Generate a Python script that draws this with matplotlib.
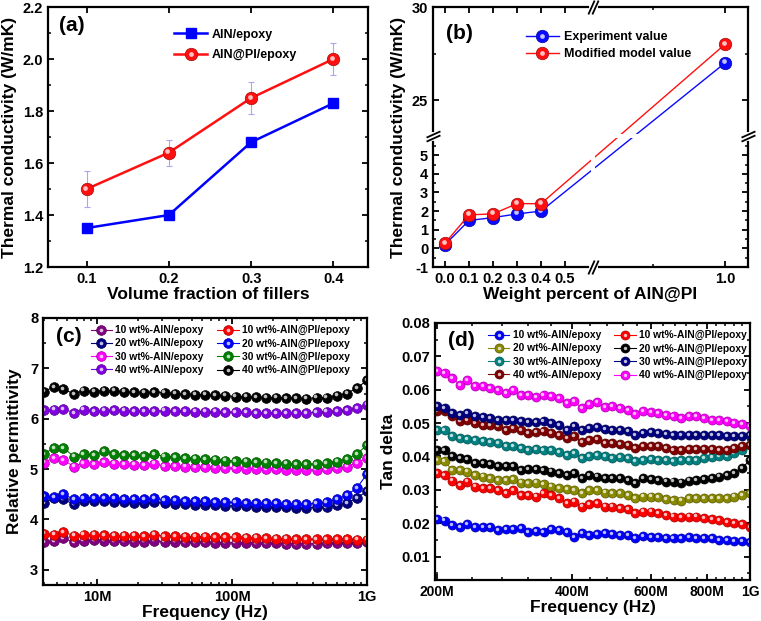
import matplotlib
matplotlib.use("Agg")
import matplotlib.pyplot as plt
import matplotlib.ticker as mticker
import matplotlib.transforms as mtrans
import numpy as np
from matplotlib.colors import to_rgb

# ---- (a) thermal conductivity vs volume fraction
vol_frac = [0.1, 0.2, 0.3, 0.4]
tc_aln = [1.35, 1.40, 1.68, 1.83]
tc_alnpi = [1.50, 1.64, 1.85, 2.00]
tc_alnpi_err = [0.07, 0.05, 0.06, 0.06]

# ---- (b) experiment vs model
wt_frac = [0.0, 0.1, 0.2, 0.3, 0.4, 1.0]
exp_val = [0.2, 1.5, 1.65, 1.85, 2.0, 27.0]
model_val = [0.28, 1.8, 1.85, 2.4, 2.4, 28.0]

# ---- (c) relative permittivity
freq_c_mhz = [4.0, 4.75, 5.6, 6.7, 7.9, 9.4, 11.2, 13.3, 15.8, 18.8,
              22.3, 26.5, 31.5, 37.5, 44.5, 53, 63, 75, 89, 106,
              126, 150, 178, 211, 251, 299, 355, 422, 501, 596,
              708, 841, 1000]
eps_aln10 = [3.55, 3.57, 3.63, 3.55, 3.58, 3.59, 3.58, 3.57, 3.57, 3.56,
             3.56, 3.58, 3.56, 3.56, 3.55, 3.55, 3.55, 3.54, 3.54, 3.54,
             3.54, 3.53, 3.53, 3.53, 3.52, 3.52, 3.52, 3.52, 3.53, 3.53,
             3.53, 3.54, 3.55]
eps_aln20 = [4.33, 4.42, 4.40, 4.30, 4.36, 4.36, 4.36, 4.35, 4.34, 4.33,
             4.33, 4.34, 4.32, 4.30, 4.30, 4.29, 4.28, 4.28, 4.27, 4.27,
             4.26, 4.25, 4.25, 4.24, 4.24, 4.23, 4.23, 4.24, 4.25, 4.28,
             4.33, 4.42, 4.57]
eps_aln30 = [5.13, 5.22, 5.18, 5.05, 5.12, 5.10, 5.14, 5.11, 5.10, 5.09,
             5.08, 5.11, 5.06, 5.06, 5.05, 5.04, 5.04, 5.03, 5.02, 5.02,
             5.01, 5.01, 5.00, 5.00, 4.99, 4.99, 4.99, 4.99, 5.00, 5.02,
             5.05, 5.12, 5.22]
eps_aln40 = [6.17, 6.18, 6.19, 6.12, 6.18, 6.15, 6.16, 6.17, 6.16, 6.15,
             6.15, 6.15, 6.16, 6.15, 6.15, 6.14, 6.14, 6.14, 6.13, 6.13,
             6.13, 6.12, 6.12, 6.12, 6.12, 6.12, 6.12, 6.13, 6.14, 6.15,
             6.17, 6.21, 6.28]
eps_pi10 = [3.72, 3.70, 3.75, 3.68, 3.70, 3.70, 3.69, 3.68, 3.68, 3.68,
            3.67, 3.70, 3.67, 3.67, 3.66, 3.66, 3.66, 3.65, 3.65, 3.65,
            3.64, 3.64, 3.63, 3.62, 3.62, 3.61, 3.61, 3.61, 3.61, 3.61,
            3.61, 3.60, 3.60]
eps_pi20 = [4.46, 4.45, 4.50, 4.40, 4.43, 4.43, 4.43, 4.42, 4.41, 4.40,
            4.40, 4.42, 4.39, 4.38, 4.37, 4.36, 4.36, 4.35, 4.34, 4.34,
            4.33, 4.33, 4.32, 4.32, 4.31, 4.31, 4.31, 4.32, 4.34, 4.40,
            4.48, 4.63, 4.90]
eps_pi30 = [5.30, 5.42, 5.42, 5.25, 5.30, 5.28, 5.35, 5.30, 5.28, 5.27,
            5.26, 5.30, 5.25, 5.24, 5.22, 5.21, 5.20, 5.19, 5.17, 5.16,
            5.15, 5.14, 5.13, 5.12, 5.11, 5.10, 5.10, 5.10, 5.12, 5.15,
            5.20, 5.30, 5.48]
eps_pi40 = [6.54, 6.63, 6.59, 6.49, 6.56, 6.54, 6.56, 6.56, 6.54, 6.53,
            6.52, 6.53, 6.52, 6.50, 6.49, 6.48, 6.48, 6.47, 6.46, 6.44,
            6.44, 6.43, 6.42, 6.42, 6.41, 6.41, 6.40, 6.42, 6.42, 6.46,
            6.50, 6.61, 6.76]

# ---- (d) tan delta
freq_d_mhz = [200, 208, 216, 225, 234, 243, 253, 263, 274, 285,
              296, 308, 320, 333, 346, 360, 375, 390, 405, 421,
              438, 456, 474, 493, 513, 533, 555, 577, 600, 624,
              649, 675, 702, 730, 759, 789, 821, 854, 888, 923,
              960, 1000]
tan_aln10 = [0.0213, 0.0208, 0.0195, 0.0188, 0.0198, 0.019, 0.0188, 0.0188, 0.018, 0.0182,
             0.0183, 0.0185, 0.0175, 0.0178, 0.0175, 0.0182, 0.018, 0.0175, 0.016, 0.0172,
             0.0165, 0.0168, 0.017, 0.0168, 0.0165, 0.0165, 0.0155, 0.0162, 0.016, 0.016,
             0.0155, 0.0155, 0.0155, 0.0158, 0.0155, 0.0155, 0.0155, 0.015, 0.015, 0.0148,
             0.0148, 0.0145]
tan_aln20 = [0.0388, 0.0385, 0.036, 0.0358, 0.0355, 0.0345, 0.034, 0.0335, 0.033, 0.033,
             0.0332, 0.0322, 0.032, 0.0322, 0.0318, 0.031, 0.0305, 0.0302, 0.030, 0.029,
             0.030, 0.030, 0.0292, 0.029, 0.029, 0.0285, 0.0275, 0.028, 0.028, 0.0278,
             0.0272, 0.027, 0.0268, 0.0275, 0.0275, 0.0275, 0.0275, 0.0275, 0.0275, 0.028,
             0.0285, 0.029]
tan_aln30 = [0.0478, 0.048, 0.046, 0.0455, 0.0452, 0.045, 0.0445, 0.0442, 0.044, 0.043,
             0.0432, 0.0425, 0.0418, 0.0422, 0.042, 0.0418, 0.0412, 0.0405, 0.041, 0.0395,
             0.040, 0.0405, 0.040, 0.0395, 0.0398, 0.0395, 0.0385, 0.039, 0.0392, 0.039,
             0.0388, 0.0385, 0.039, 0.039, 0.039, 0.0395, 0.0398, 0.040, 0.0402, 0.041,
             0.0418, 0.0435]
tan_aln40 = [0.0535, 0.0535, 0.052, 0.0505, 0.051, 0.050, 0.0495, 0.0495, 0.049, 0.048,
             0.0485, 0.048, 0.047, 0.0472, 0.0475, 0.047, 0.0465, 0.0455, 0.046, 0.0442,
             0.045, 0.0452, 0.044, 0.044, 0.0438, 0.0435, 0.0425, 0.043, 0.043, 0.043,
             0.0425, 0.042, 0.0418, 0.0422, 0.0422, 0.0422, 0.0422, 0.042, 0.042, 0.0425,
             0.043, 0.0435]
tan_pi10 = [0.035, 0.0345, 0.0328, 0.0315, 0.0325, 0.031, 0.0305, 0.0305, 0.030, 0.029,
            0.030, 0.0285, 0.0285, 0.028, 0.029, 0.0285, 0.0275, 0.026, 0.0265, 0.025,
            0.0258, 0.026, 0.025, 0.025, 0.0245, 0.0242, 0.023, 0.0235, 0.0235, 0.023,
            0.0225, 0.022, 0.0218, 0.022, 0.022, 0.0215, 0.0212, 0.021, 0.0205, 0.020,
            0.0198, 0.019]
tan_pi20 = [0.042, 0.0418, 0.040, 0.0395, 0.0392, 0.038, 0.038, 0.0378, 0.037, 0.037,
            0.0372, 0.036, 0.0362, 0.0362, 0.036, 0.0355, 0.035, 0.0345, 0.035, 0.0335,
            0.0345, 0.034, 0.0335, 0.0335, 0.0335, 0.033, 0.032, 0.0335, 0.0332, 0.033,
            0.0325, 0.0325, 0.0322, 0.0328, 0.033, 0.0332, 0.0335, 0.034, 0.0345, 0.035,
            0.0365, 0.039]
tan_pi30 = [0.055, 0.0545, 0.053, 0.0525, 0.053, 0.052, 0.0518, 0.0515, 0.051, 0.0508,
            0.051, 0.0505, 0.0502, 0.0502, 0.0505, 0.050, 0.0495, 0.048, 0.049, 0.0478,
            0.0485, 0.0488, 0.0482, 0.048, 0.048, 0.0475, 0.0465, 0.047, 0.0472, 0.047,
            0.0468, 0.0465, 0.0465, 0.0465, 0.0465, 0.0465, 0.0465, 0.0465, 0.046, 0.046,
            0.0462, 0.0465]
tan_pi40 = [0.0655, 0.065, 0.0635, 0.0615, 0.0628, 0.0612, 0.061, 0.0605, 0.060, 0.059,
            0.060, 0.0585, 0.0583, 0.0578, 0.0585, 0.058, 0.0575, 0.056, 0.0565, 0.0545,
            0.0558, 0.0562, 0.0548, 0.055, 0.0545, 0.054, 0.0528, 0.0535, 0.0533, 0.053,
            0.0525, 0.052, 0.0515, 0.0522, 0.052, 0.0515, 0.051, 0.051, 0.0505, 0.050,
            0.0498, 0.049]

wt_labels = ["10 wt%", "20 wt%", "30 wt%", "40 wt%"]

plt.rcParams["font.family"] = ["Liberation Sans", "DejaVu Sans"]
plt.rcParams["font.weight"] = "bold"
plt.rcParams["axes.labelweight"] = "bold"
plt.rcParams["axes.linewidth"] = 1.6
plt.rcParams["xtick.direction"] = "in"
plt.rcParams["ytick.direction"] = "in"
plt.rcParams["xtick.top"] = True
plt.rcParams["ytick.right"] = True
plt.rcParams["xtick.major.size"] = 4.5
plt.rcParams["ytick.major.size"] = 4.5
plt.rcParams["xtick.minor.size"] = 2.5
plt.rcParams["ytick.minor.size"] = 2.5
plt.rcParams["xtick.major.width"] = 1.3
plt.rcParams["ytick.major.width"] = 1.3
plt.rcParams["xtick.minor.width"] = 1.1
plt.rcParams["ytick.minor.width"] = 1.1
plt.rcParams["xtick.labelsize"] = 10.5
plt.rcParams["ytick.labelsize"] = 10.5
plt.rcParams["axes.labelsize"] = 12.5

fig = plt.figure(figsize=(7.61, 6.21), dpi=100)


def shade(c, f):
    r = np.array(to_rgb(c))
    if f >= 0:
        return tuple(r + (1 - r) * f)
    return tuple(r * (1 + f))


def sphere(ax, x, y, color, ms, lw=1.0, label=None):
    main, = ax.plot(x, y, "-", color=color, lw=lw, marker="o", ms=ms,
                    mfc=color, mec=shade(color, -0.35), mew=0.5, label=label)
    off = mtrans.offset_copy(ax.transData, fig=fig, x=-ms * 0.12, y=ms * 0.12, units="points")
    hi, = ax.plot(x, y, ls="none", marker="o", ms=ms * 0.38,
                  mfc=shade(color, 0.75), mec="none", transform=off)
    return (main, hi)


# ================= (a)
ax = fig.add_axes([0.063, 0.570, 0.4205, 0.4187])
ha1, = ax.plot(vol_frac, tc_aln, "-s", color="#0000ff", lw=1.8, ms=7.5, label="AlN/epoxy")
ax.errorbar(vol_frac, tc_alnpi, yerr=tc_alnpi_err, fmt="none", ecolor="#a8a8f0",
            elinewidth=0.8, capsize=2.5, capthick=0.8)
ha2 = sphere(ax, vol_frac, tc_alnpi, "#ff1010", 9, lw=1.8)
ax.set_xlim(0.053, 0.442)
ax.set_ylim(1.2, 2.2)
ax.xaxis.set_major_locator(mticker.FixedLocator(vol_frac))
ax.yaxis.set_major_locator(mticker.MultipleLocator(0.2))
ax.yaxis.set_minor_locator(mticker.MultipleLocator(0.1))
ax.xaxis.set_major_formatter(mticker.FormatStrFormatter("%.1f"))
ax.yaxis.set_major_formatter(mticker.FormatStrFormatter("%.1f"))
ax.set_xlabel("Volume fraction of fillers", labelpad=1)
ax.set_ylabel("Thermal conductivity (W/mK)", labelpad=4)
ax.text(0.035, 0.93, "(a)", transform=ax.transAxes, fontsize=15, va="center")
ax.legend([ha1, ha2], ["AlN/epoxy", "AlN@PI/epoxy"], loc="upper left",
          bbox_to_anchor=(0.36, 0.96), frameon=False, fontsize=9,
          handlelength=2.6, handletextpad=0.4, labelspacing=0.7)

# ================= (b) broken axes via piecewise scale
XB0, XB1, XG, XK = 0.61, 0.64, 0.0167, 1.5
YB0, YB1, YG = 5.9, 23.2, 0.25


def fx(x):
    x = np.asarray(x, float)
    return np.where(x <= XB0, x,
                    np.where(x >= XB1, XB0 + XG + (x - XB1) * XK,
                             XB0 + (x - XB0) * XG / (XB1 - XB0)))


def fx_inv(u):
    u = np.asarray(u, float)
    return np.where(u <= XB0, u,
                    np.where(u >= XB0 + XG, XB1 + (u - XB0 - XG) / XK,
                             XB0 + (u - XB0) * (XB1 - XB0) / XG))


def fy(y):
    y = np.asarray(y, float)
    return np.where(y <= YB0, y,
                    np.where(y >= YB1, y - YB1 + YB0 + YG,
                             YB0 + (y - YB0) * YG / (YB1 - YB0)))


def fy_inv(u):
    u = np.asarray(u, float)
    return np.where(u <= YB0, u,
                    np.where(u >= YB0 + YG, u - YB0 - YG + YB1,
                             YB0 + (u - YB0) * (YB1 - YB0) / YG))


bx = fig.add_axes([0.569, 0.570, 0.414, 0.4187])
bx.set_xscale("function", functions=(fx, fx_inv))
bx.set_yscale("function", functions=(fy, fy_inv))
hb1 = sphere(bx, wt_frac, exp_val, "#0a0aff", 9, lw=1.0)
hb2 = sphere(bx, wt_frac, model_val, "#ff1010", 9, lw=1.0)
bx.set_xlim(-0.05, 1.064)
bx.set_ylim(-1, 30)
bx.axvspan(XB0, XB1, color="white", zorder=2.1, lw=0)
bx.axhspan(YB0, YB1, color="white", zorder=2.1, lw=0)
bx.xaxis.set_major_locator(mticker.FixedLocator([0.0, 0.1, 0.2, 0.3, 0.4, 0.5, 1.0]))
bx.xaxis.set_minor_locator(mticker.FixedLocator([0.8]))
bx.yaxis.set_major_locator(mticker.FixedLocator([-1, 0, 1, 2, 3, 4, 5, 25, 30]))
bx.yaxis.set_minor_locator(mticker.FixedLocator([-0.5, 0.5, 1.5, 2.5, 3.5, 4.5, 5.5, 27.5]))
bx.xaxis.set_major_formatter(mticker.FormatStrFormatter("%.1f"))
bx.yaxis.set_major_formatter(mticker.FormatStrFormatter("%d"))
bx.set_xlabel("Weight percent of AlN@PI", labelpad=1)
bx.set_ylabel("Thermal conductivity (W/mK)", labelpad=4)
bx.text(0.04, 0.90, "(b)", transform=bx.transAxes, fontsize=15, va="center")
bx.legend([hb1, hb2], ["Experiment value", "Modified model value"], loc="upper left",
          bbox_to_anchor=(0.26, 0.95), frameon=False, fontsize=9,
          handlelength=2.6, handletextpad=0.4, labelspacing=0.4)

trx = mtrans.blended_transform_factory(bx.transData, bx.transAxes)
try_ = mtrans.blended_transform_factory(bx.transAxes, bx.transData)
for s in (0, 1):
    bx.plot([XB0, XB1], [s, s], color="white", lw=3.5, transform=trx, clip_on=False, zorder=5)
    bx.plot([XB0, XB1], [s, s], ls="none", marker=[(-0.45, -1), (0.45, 1)], ms=10,
            mew=1.3, color="k", transform=trx, clip_on=False, zorder=6)
    bx.plot([s, s], [YB0, YB1], color="white", lw=3.5, transform=try_, clip_on=False, zorder=5)
    bx.plot([s, s], [YB0, YB1], ls="none", marker=[(-1, -0.45), (1, 0.45)], ms=10,
            mew=1.3, color="k", transform=try_, clip_on=False, zorder=6)

# ================= (c)
cx = fig.add_axes([0.0565, 0.058, 0.4258, 0.430])
fc = np.array(freq_c_mhz) * 1e6
c_series = [
    (eps_aln10, "#800080", "AlN/epoxy"),
    (eps_aln20, "#000080", "AlN/epoxy"),
    (eps_aln30, "#ff00ff", "AlN/epoxy"),
    (eps_aln40, "#8000e0", "AlN/epoxy"),
    (eps_pi10, "#ff0000", "AlN@PI/epoxy"),
    (eps_pi20, "#0000ff", "AlN@PI/epoxy"),
    (eps_pi30, "#008000", "AlN@PI/epoxy"),
    (eps_pi40, "#000000", "AlN@PI/epoxy"),
]
hc, lc = [], []
for i, (vals, col, name) in enumerate(c_series):
    hc.append(sphere(cx, fc, vals, col, 7, lw=0.8))
    lc.append(wt_labels[i % 4] + "-" + name)
cx.set_xscale("log")
cx.set_xlim(3.95e6, 1.0e9)
cx.set_ylim(2.7, 8)
cx.xaxis.set_major_locator(mticker.FixedLocator([1e7, 1e8, 1e9]))
cx.xaxis.set_major_formatter(mticker.FixedFormatter(["10M", "100M", "1G"]))
cx.xaxis.set_minor_locator(mticker.LogLocator(subs=np.arange(2, 10)))
cx.xaxis.set_minor_formatter(mticker.NullFormatter())
cx.yaxis.set_major_locator(mticker.MultipleLocator(1))
cx.yaxis.set_minor_locator(mticker.MultipleLocator(0.5))
cx.set_xlabel("Frequency (Hz)", labelpad=1)
cx.set_ylabel("Relative permittivity", labelpad=6)
cx.text(0.04, 0.93, "(c)", transform=cx.transAxes, fontsize=15, va="center")
cx.legend(hc, lc, ncol=2, loc="upper left", bbox_to_anchor=(0.125, 1.0), frameon=False,
          fontsize=7.4, handlelength=2.1, handletextpad=0.3, labelspacing=0.32,
          columnspacing=1.3, borderaxespad=0.3)

# ================= (d)
dx = fig.add_axes([0.5716, 0.066, 0.414, 0.414])
fd = np.array(freq_d_mhz) * 1e6
d_series = [
    (tan_aln10, "#0000ff", "AlN/epoxy"),
    (tan_aln20, "#8a8a00", "AlN/epoxy"),
    (tan_aln30, "#008080", "AlN/epoxy"),
    (tan_aln40, "#800000", "AlN/epoxy"),
    (tan_pi10, "#ff0000", "AlN@PI/epoxy"),
    (tan_pi20, "#000000", "AlN@PI/epoxy"),
    (tan_pi30, "#000080", "AlN@PI/epoxy"),
    (tan_pi40, "#ff00ff", "AlN@PI/epoxy"),
]
hd, ld = [], []
for i, (vals, col, name) in enumerate(d_series):
    hd.append(sphere(dx, fd, vals, col, 6.5, lw=0.8))
    ld.append(wt_labels[i % 4] + "-" + name)
dx.set_xscale("log")
dx.set_xlim(198e6, 1.0e9)
dx.set_ylim(0.003, 0.08)
dx.xaxis.set_major_locator(mticker.FixedLocator([2e8, 4e8, 6e8, 8e8, 1e9]))
dx.xaxis.set_major_formatter(mticker.FixedFormatter(["200M", "400M", "600M", "800M", "1G"]))
dx.xaxis.set_minor_locator(mticker.FixedLocator(np.arange(240e6, 1e9, 40e6)))
dx.xaxis.set_minor_formatter(mticker.NullFormatter())
dx.yaxis.set_major_locator(mticker.MultipleLocator(0.01))
dx.yaxis.set_minor_locator(mticker.MultipleLocator(0.005))
dx.yaxis.set_major_formatter(mticker.FormatStrFormatter("%.2f"))
dx.tick_params(axis="x", labelsize=10)
dx.set_xlabel("Frequency (Hz)", labelpad=1)
dx.set_ylabel("Tan delta", labelpad=4)
dx.text(0.04, 0.93, "(d)", transform=dx.transAxes, fontsize=15, va="center")
dx.legend(hd, ld, ncol=2, loc="upper left", bbox_to_anchor=(0.145, 1.0), frameon=False,
          fontsize=7.4, handlelength=2.1, handletextpad=0.3, labelspacing=0.32,
          columnspacing=1.3, borderaxespad=0.3)

fig.savefig("out.png", dpi=100)
